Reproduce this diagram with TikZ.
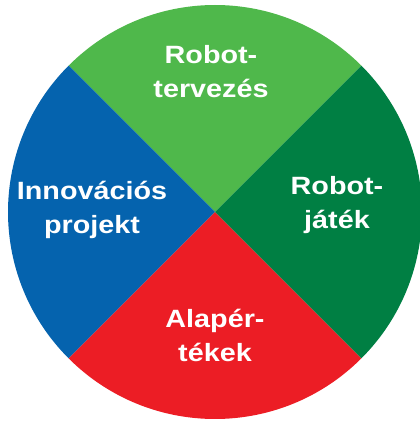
\documentclass[tikz,border=0pt]{standalone}
\usepackage{fontspec}
\setmainfont{Liberation Sans}
\newfontfamily\widefont[FakeStretch=1.15]{Liberation Sans}
\usetikzlibrary{calc}
\definecolor{lightgreen}{HTML}{4FB84B}
\definecolor{darkgreen}{HTML}{007F43}
\definecolor{wheelred}{HTML}{EC1D25}
\definecolor{wheelblue}{HTML}{0563AE}
\def\sector[#1](#2)(#3:#4:#5){\fill[#1] (#2) -- ($(#2)+({#5*cos(#3)},{#5*sin(#3)})$) arc (#3:#4:#5) -- cycle;}
\tikzset{label/.style={text=white, font=\widefont\bfseries\fontsize{25}{34}\selectfont, align=center, inner sep=0pt}}

\begin{document}
\begin{tikzpicture}[x=1pt, y=1pt]
		%%%%% START %%%%%
		\useasboundingbox (0, 0) rectangle (420, 421);
		
		\coordinate (hub) at (215, 209);
		
		\sector[lightgreen](hub)(45:135:207)
		\sector[wheelblue](hub)(135:225:207)
		\sector[wheelred](hub)(225:315:207)
		\sector[darkgreen](hub)(-45:45:207)
		
		\node[label] (design) at (211, 349) {Robot-\\tervezés};
		\node[label] (game) at (337, 216) {Robot-\\játék};
		\node[label] (innov) at (92, 211) {Innovációs\\projekt};
		\node[label] (values) at (215, 86) {Alapér-\\tékek};
		
		%%%%% END %%%%%
	\end{tikzpicture}
\end{document}
